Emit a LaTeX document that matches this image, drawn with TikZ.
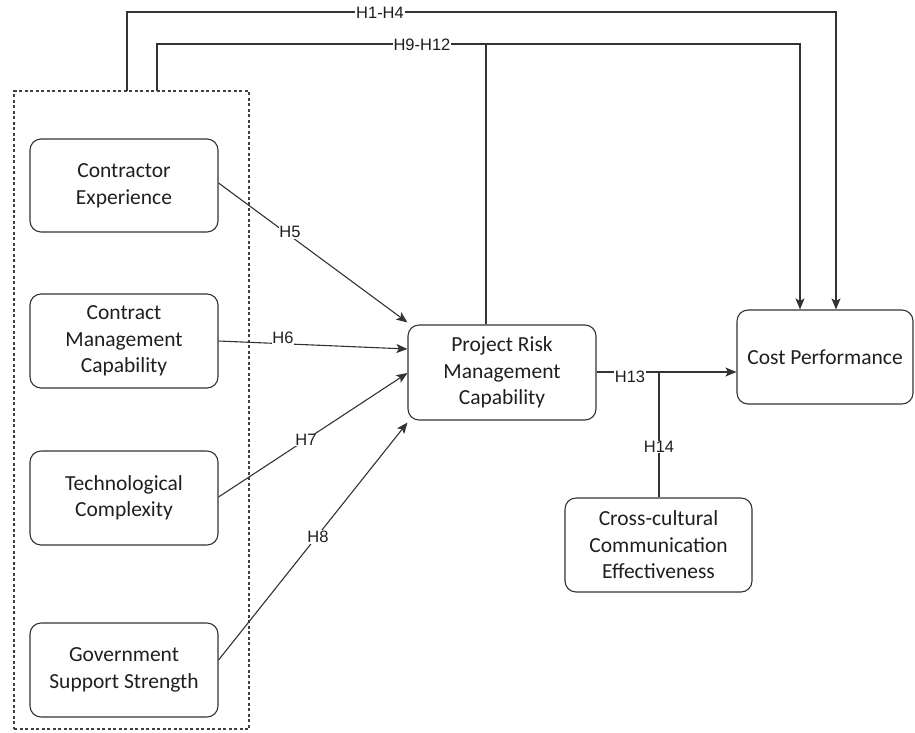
\documentclass[tikz,border=0pt]{standalone}
\usepackage{fontspec}
\setmainfont{Carlito}
\newfontfamily\labfont{Liberation Sans}
\usetikzlibrary{arrows.meta}
\begin{document}
\begin{tikzpicture}[x=1pt,y=-1pt,
  box/.style={draw=black!80, line width=1.1pt, rounded corners=11pt, align=center,
    font=\fontsize{21.5}{26.5}\selectfont, text=black!88, inner sep=0pt},
  lab/.style={font=\labfont\fontsize{16.5}{18}\selectfont, fill=white, inner sep=0.8pt, text=black!88},
  conn/.style={draw=black!80, line width=1.1pt},
  arr/.style={conn, -{Stealth[length=11pt,width=9pt,inset=2.5pt]}}]
\useasboundingbox (0,0) rectangle (915,732);
% dashed group
\node[draw=black!75, line width=1.2pt, dash pattern=on 3pt off 2.5pt,
  minimum width=235pt, minimum height=638pt, inner sep=0pt] (grp) at (131.5,410) {};
% boxes
\node[box, minimum width=188pt, minimum height=93pt] (ce) at (124,185.5) {Contractor\\Experience};
\node[box, minimum width=188pt, minimum height=94pt] (cmc) at (124,341) {Contract\\Management\\Capability};
\node[box, minimum width=188pt, minimum height=94pt] (tc) at (124,498) {Technological\\Complexity};
\node[box, minimum width=188pt, minimum height=94pt] (gss) at (124,670) {Government\\Support Strength};
\node[box, minimum width=188pt, minimum height=95pt] (pr) at (502,372.5) {Project Risk\\Management\\Capability};
\node[box, minimum width=176pt, minimum height=94pt] (cp) at (825,357) {Cost Performance};
\node[box, minimum width=187pt, minimum height=94pt] (cc) at (658.5,545) {Cross-cultural\\Communication\\Effectiveness};
% coordinates for routing
\coordinate (a1) at (127,91);
\coordinate (a2) at (157,91);
\coordinate (k1) at (127,12);
\coordinate (k2) at (836,12);
\coordinate (m1) at (157,44);
\coordinate (m2) at (800,44);
\coordinate (prt) at (486,44);
\coordinate (jn) at (659,372);
% H1-H4
\draw[arr] (a1) -- (k1) -- (k2) -- (k2 |- cp.north);
\node[lab] (l14) at (380,13) {H1-H4};
% H9-H12
\draw[arr] (a2) -- (m1) -- (m2) -- (m2 |- cp.north);
\draw[conn] (prt |- pr.north) -- (prt);
\node[lab] (l912) at (422,45) {H9-H12};
% H5-H8
\draw[arr] (ce.east |- 0,183) -- ([yshift=2pt]pr.north west);
\node[lab] (l5) at (290,232) {H5};
\draw[arr] (cmc.east) -- ([yshift=23.5pt]pr.west);
\node[lab] (l6) at (283,338) {H6};
\draw[arr] (tc.east |- 0,497) -- ([yshift=-0.5pt]pr.west);
\node[lab] (l7) at (306,440) {H7};
\draw[arr] (gss.east |- 0,660) -- ([yshift=-2pt]pr.south west);
\node[lab] (l8) at (318,537) {H8};
% H13, H14
\draw[arr] (pr.east |- jn) -- (cp.west |- jn);
\node[lab] (l13) at (630,377) {H13};
\draw[conn] (cc.north -| jn) -- (jn);
\node[lab] (l14b) at (659,447) {H14};
\end{tikzpicture}
\end{document}
